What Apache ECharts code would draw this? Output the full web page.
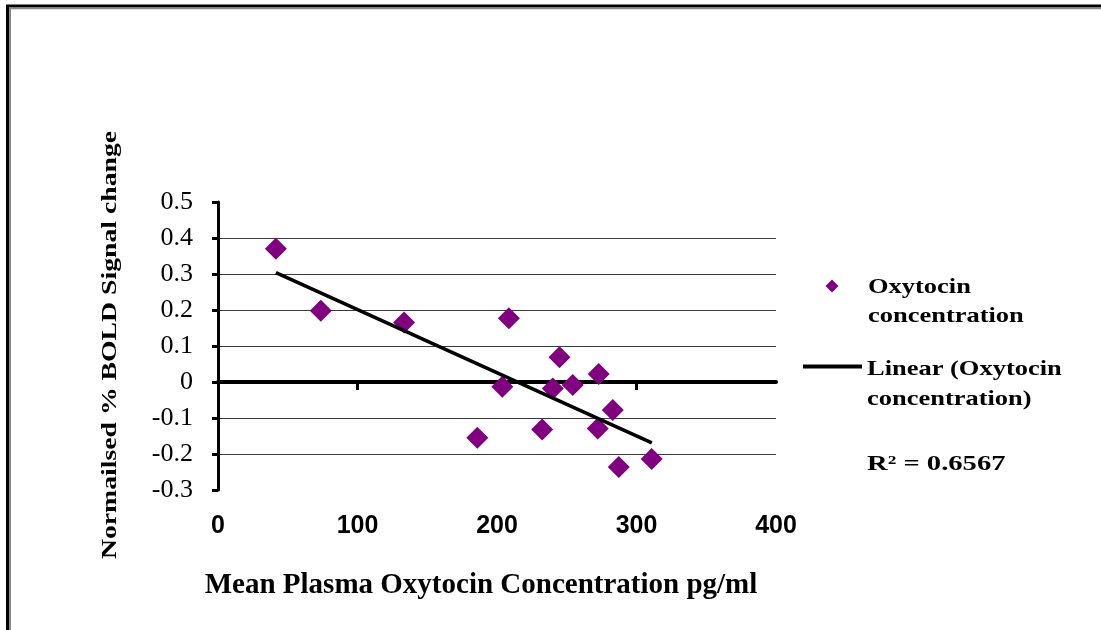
<!DOCTYPE html>
<html>
<head>
<meta charset="utf-8">
<script src="https://cdn.jsdelivr.net/npm/echarts@6/dist/echarts.min.js"></script>
<style>
  html, body { margin: 0; padding: 0; background: #fff; }
  #chart { width: 1101px; height: 630px; }
</style>
</head>
<body>
<div id="chart"></div>
<script>
// ---- data ----
const oxytocinConc = [41.5, 73.7, 133.4, 208.5, 203.8, 185.9, 244.8, 240.0, 254.3, 272.9, 232.4, 272.2, 283.0, 287.3, 310.9];
const boldChange   = [0.370, 0.198, 0.165, 0.177, -0.013, -0.155, 0.069, -0.018, -0.008, 0.022, -0.132, -0.129, -0.078, -0.236, -0.214];
// trendline end points as drawn in the reference
const trendX = [41.5, 311.0];
const trendY = [0.304, -0.169];
const xTicks = [0, 100, 200, 300, 400];
const yTicks = [-0.3, -0.2, -0.1, 0, 0.1, 0.2, 0.3, 0.4, 0.5];

const seriesName = 'Oxytocin concentration';
const trendName = 'Linear (Oxytocin concentration)';
const rSquared = 'R\u00B2 = 0.6567';
const xTitle = 'Mean Plasma Oxytocin Concentration pg/ml';
const yTitle = 'Normailsed % BOLD Signal change';

const scatterData = oxytocinConc.map((x, i) => [x, boldChange[i]]);
const trendData = trendX.map((x, i) => [x, trendY[i]]);

const serif = '"Liberation Serif", "Times New Roman", serif';
const sans = '"Liberation Sans", Arial, sans-serif';

const chart = echarts.init(document.getElementById('chart'), null, { renderer: 'canvas' });
chart.setOption({
  animation: false,
  backgroundColor: '#ffffff',
  grid: { left: 218, right: 325, top: 202, bottom: 140, containLabel: false },
  xAxis: [
    {
      type: 'value', position: 'bottom',
      min: xTicks[0], max: xTicks[xTicks.length - 1], interval: 100,
      axisLine: { show: false, onZero: false },
      axisTick: { show: false },
      splitLine: { show: false },
      axisLabel: { color: '#000', fontFamily: sans, fontWeight: 'bold', fontSize: 25, margin: 24 }
    },
    {
      type: 'value', position: 'top',
      min: xTicks[0], max: xTicks[xTicks.length - 1], interval: 100,
      axisLine: { show: true, onZero: true, lineStyle: { color: '#000', width: 4 } },
      axisTick: { show: true, inside: true, length: 8, lineStyle: { color: '#000', width: 3 }, customValues: [100, 200, 300] },
      axisLabel: { show: false },
      splitLine: { show: false }
    }
  ],
  yAxis: {
    type: 'value',
    min: yTicks[0], max: yTicks[yTicks.length - 1], interval: 0.1,
    axisLine: { show: true, onZero: false, lineStyle: { color: '#000', width: 3 } },
    axisTick: { show: true, length: 6, lineStyle: { color: '#000', width: 3 } },
    axisLabel: { color: '#000', fontFamily: serif, fontSize: 26, margin: 25,
      formatter: v => String(Math.round(v * 10) / 10) },
    splitLine: { show: true, showMinLine: false, showMaxLine: false, lineStyle: { color: '#3a3a3a', width: 1 } }
  },
  series: [
    {
      name: seriesName, type: 'scatter', xAxisIndex: 0, yAxisIndex: 0,
      symbol: 'diamond', symbolSize: 22,
      itemStyle: { color: '#800080', opacity: 1 },
      data: scatterData, z: 3
    },
    {
      name: trendName, type: 'line', xAxisIndex: 0, yAxisIndex: 0,
      showSymbol: false, symbol: 'none',
      lineStyle: { color: '#000', width: 3.5 },
      data: trendData, z: 4
    }
  ],
  graphic: [
    // outer frame
    { type: 'line', shape: { x1: 6, y1: 6, x2: 1101, y2: 6 }, style: { stroke: '#000', lineWidth: 3 } },
    { type: 'line', shape: { x1: 7.5, y1: 5, x2: 7.5, y2: 630 }, style: { stroke: '#000', lineWidth: 3 } },
    { type: 'line', shape: { x1: 9, y1: 8.5, x2: 1101, y2: 8.5 }, style: { stroke: '#8a8a8a', lineWidth: 1.5 } },
    { type: 'line', shape: { x1: 10, y1: 8, x2: 10, y2: 630 }, style: { stroke: '#8a8a8a', lineWidth: 2 } },
    // legend
    { type: 'polygon', shape: { points: [[832, 279.5], [838.5, 286], [832, 292.5], [825.5, 286]] }, style: { fill: '#800080' } },
    { type: 'text', x: 868, y: 273, scaleX: 1.26,
      style: { text: 'Oxytocin\nconcentration', fill: '#000', font: 'bold 21px ' + serif, lineHeight: 29, textAlign: 'left', textVerticalAlign: 'top' } },
    { type: 'line', shape: { x1: 803, y1: 366.5, x2: 862, y2: 366.5 }, style: { stroke: '#000', lineWidth: 4 } },
    { type: 'text', x: 867, y: 355, scaleX: 1.26,
      style: { text: 'Linear (Oxytocin\nconcentration)', fill: '#000', font: 'bold 21px ' + serif, lineHeight: 30, textAlign: 'left', textVerticalAlign: 'top' } },
    { type: 'text', x: 867, y: 464, scaleX: 1.3,
      style: { text: rSquared, fill: '#000', font: 'bold 22px ' + serif, textAlign: 'left', textVerticalAlign: 'middle' } },
    // axis titles
    { type: 'text', x: 481, y: 586,
      style: { text: xTitle, fill: '#000', font: 'bold 29px ' + serif, textAlign: 'center', textVerticalAlign: 'middle' } },
    { type: 'text', x: 111, y: 345, rotation: Math.PI / 2, scaleX: 1.32,
      style: { text: yTitle, fill: '#000', font: 'bold 21px ' + serif, textAlign: 'center', textVerticalAlign: 'middle' } }
  ]
});
</script>
</body>
</html>
